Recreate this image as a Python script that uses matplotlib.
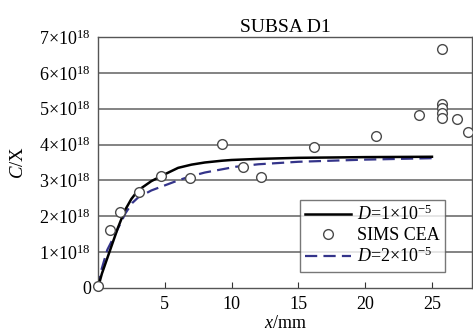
import numpy as np
import matplotlib
matplotlib.use("Agg")
import matplotlib.pyplot as plt
from matplotlib.ticker import FuncFormatter

plt.rcParams['font.family'] = ['Liberation Serif', 'DejaVu Serif']
plt.rcParams['mathtext.fontset'] = 'custom'
plt.rcParams['mathtext.rm'] = 'Liberation Serif'
plt.rcParams['mathtext.it'] = 'Liberation Serif:italic'

# concentrations in units of 1e18
sims_x = [0.0, 0.9, 1.65, 3.07, 4.7, 6.87, 9.27, 10.86, 12.2, 16.2, 20.8, 24.0,
          25.74, 25.74, 25.74, 25.74, 25.74, 26.9, 27.7]
sims_y = [0.05, 1.62, 2.13, 2.67, 3.13, 3.06, 4.01, 3.38, 3.10, 3.94, 4.23, 4.82,
          6.68, 5.14, 5.02, 4.87, 4.73, 4.71, 4.34]

d1_x = [0, 0.3, 1, 1.5, 2, 2.5, 3, 4, 5, 6, 7, 8, 9.3, 10, 12, 15, 20, 25]
d1_y = [0, 0.4, 1.15, 1.68, 2.15, 2.48, 2.72, 2.98, 3.17, 3.35, 3.44, 3.5,
        3.55, 3.57, 3.6, 3.63, 3.65, 3.66]

d2_x = [0, 0.1, 0.7, 1.2, 2.07, 2.57, 3, 4, 5.07, 6, 6.8, 8, 10.3, 12, 15, 20, 25]
d2_y = [0, 0.3, 1.06, 1.43, 2.09, 2.37, 2.52, 2.72, 2.87, 3.0, 3.1, 3.22, 3.38,
        3.45, 3.52, 3.58, 3.62]

fig = plt.figure(figsize=(4.73, 3.34), dpi=100)
ax = fig.add_axes([0.207, 0.138, 0.791, 0.751])

for y in range(1, 8):
    ax.axhline(y, color='#6e6e6e', lw=1.2, zorder=0)

ax.plot(d1_x, d1_y, color='black', lw=1.8, label=r'$D$=1×10$^{-5}$', zorder=3)
ax.plot(sims_x, sims_y, 'o', ms=7, mfc='white', mec='#4a4a4a', mew=1.0,
        label='SIMS CEA', zorder=4, clip_on=False)
ax.plot(d2_x, d2_y, color='#34348a', lw=1.6, dashes=(5.5, 2.8),
        label=r'$D$=2×10$^{-5}$', zorder=2)

ax.set_xlim(0, 28)
ax.set_ylim(0, 7)
ax.set_xticks([5, 10, 15, 20, 25])
ax.set_yticks(range(0, 8))
ax.yaxis.set_major_formatter(FuncFormatter(
    lambda v, p: '0' if v == 0 else '%d×10$^{18}$' % v))
ax.tick_params(axis='x', direction='in', length=4, labelsize=13, pad=6, color='#333333')
ax.tick_params(axis='y', length=0, labelsize=13, pad=5)
for s in ax.spines.values():
    s.set_color('#555555')
    s.set_linewidth(1.0)

ax.set_title('SUBSA D1', fontsize=14, pad=4)
ax.set_xlabel(r'$x$/mm', fontsize=13, labelpad=1)
ax.set_ylabel(r'$C$/X', fontsize=13.5, labelpad=9)

leg = ax.legend(loc='lower right', bbox_to_anchor=(0.928, 0.065), fontsize=13,
                frameon=True, fancybox=False, edgecolor='#555555',
                handlelength=2.5, handletextpad=0.35, borderpad=0.3,
                labelspacing=0.15, borderaxespad=0)
leg.get_frame().set_linewidth(1.0)

fig.savefig('out.png', dpi=100)
